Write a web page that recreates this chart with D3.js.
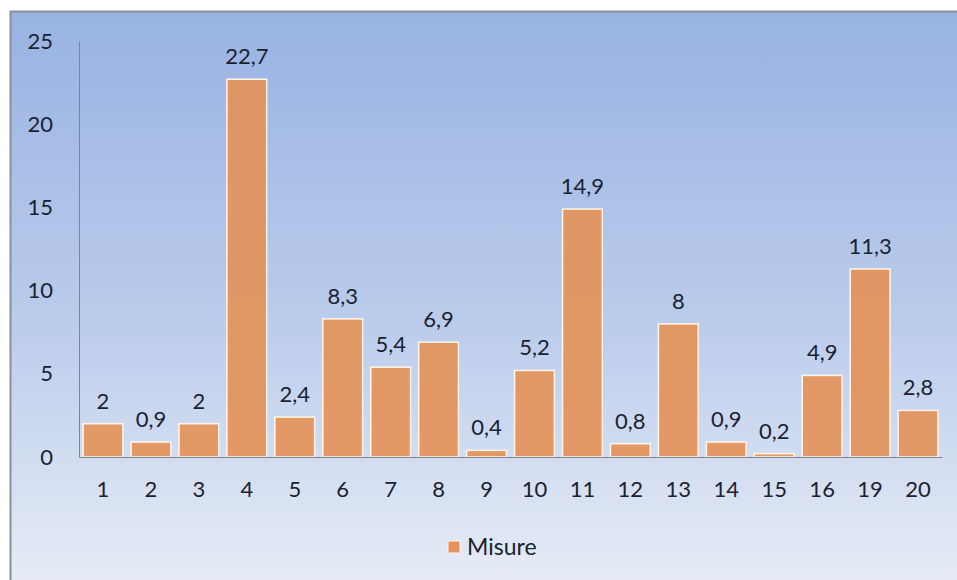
<!DOCTYPE html>
<html>
<head>
<meta charset="utf-8">
<script src="https://cdn.jsdelivr.net/npm/d3@7"></script>
<style>
  html, body { margin: 0; padding: 0; background: #ffffff; }
  svg { display: block; }
  text { font-family: Lato, "Open Sans", sans-serif; fill: #1a2230; }
</style>
</head>
<body>
<svg id="chart" width="957" height="580"></svg>
<script>
// Categories and measured values
const categories = ["1","2","3","4","5","6","7","8","9","10","11","12","13","14","15","16","19","20"];
const values = [2, 0.9, 2, 22.7, 2.4, 8.3, 5.4, 6.9, 0.4, 5.2, 14.9, 0.8, 8, 0.9, 0.2, 4.9, 11.3, 2.8];
const yTicks = [0, 5, 10, 15, 20, 25];
const seriesName = "Misure";

const svg = d3.select("#chart");
const defs = svg.append("defs");

const bg = defs.append("linearGradient").attr("id", "bg").attr("x1", 0).attr("y1", 0).attr("x2", 0).attr("y2", 1);
bg.append("stop").attr("offset", "0%").attr("stop-color", "#98b2e2");
bg.append("stop").attr("offset", "55%").attr("stop-color", "#bccdec");
bg.append("stop").attr("offset", "100%").attr("stop-color", "#e8edf6");

// Chart box
svg.append("rect")
  .attr("x", 10.5).attr("y", 11.5)
  .attr("width", 960).attr("height", 580)
  .attr("fill", "url(#bg)")
  .attr("stroke", "#8a8f99").attr("stroke-width", 2);

const plot = { left: 79, right: 942, top: 41, bottom: 457 };

const x = d3.scaleBand().domain(categories).range([plot.left, plot.right]).paddingInner(0.17).paddingOuter(0.085);
const y = d3.scaleLinear().domain([0, 25]).range([plot.bottom, plot.top]);

// Bars
svg.append("g").selectAll("rect").data(values).join("rect")
  .attr("x", (d, i) => x(categories[i]))
  .attr("y", d => y(d))
  .attr("width", x.bandwidth())
  .attr("height", d => y(0) - y(d))
  .attr("fill", "#e4935a")
  .attr("fill-opacity", 0.93)
  .attr("stroke", "#fff6ea")
  .attr("stroke-width", 1.5);

// Value labels
svg.append("g").selectAll("text").data(values).join("text")
  .attr("x", (d, i) => x(categories[i]) + x.bandwidth() / 2)
  .attr("y", d => y(d) - 15)
  .attr("text-anchor", "middle")
  .attr("font-size", 22)
  .text(d => String(d).replace(".", ","));

// Y axis
const yAxis = d3.axisLeft(y).tickValues(yTicks).tickSize(0).tickPadding(26).tickFormat(d3.format("d"));
const gy = svg.append("g").attr("transform", `translate(${plot.left},0)`).call(yAxis);
gy.select(".domain").attr("stroke", "#7d8594").attr("stroke-width", 1);
gy.selectAll("text").attr("font-size", 22).attr("fill", "#1a2230").attr("font-family", "Lato, 'Open Sans', sans-serif");

// X axis
const xAxis = d3.axisBottom(x).tickSize(0).tickPadding(24);
const gx = svg.append("g").attr("transform", `translate(0,${plot.bottom})`).call(xAxis);
gx.select(".domain").attr("stroke", "#7d8594").attr("stroke-width", 1);
gx.selectAll("text").attr("font-size", 22).attr("fill", "#1a2230").attr("font-family", "Lato, 'Open Sans', sans-serif");

// Legend
const legend = svg.append("g").attr("transform", "translate(448,541)");
legend.append("rect").attr("width", 12).attr("height", 12).attr("fill", "#e4935a").attr("stroke", "#fff6ea").attr("stroke-width", 1);
legend.append("text").attr("x", 19).attr("y", 6).attr("dy", "0.35em").attr("font-size", 23).text(seriesName);
</script>
</body>
</html>
